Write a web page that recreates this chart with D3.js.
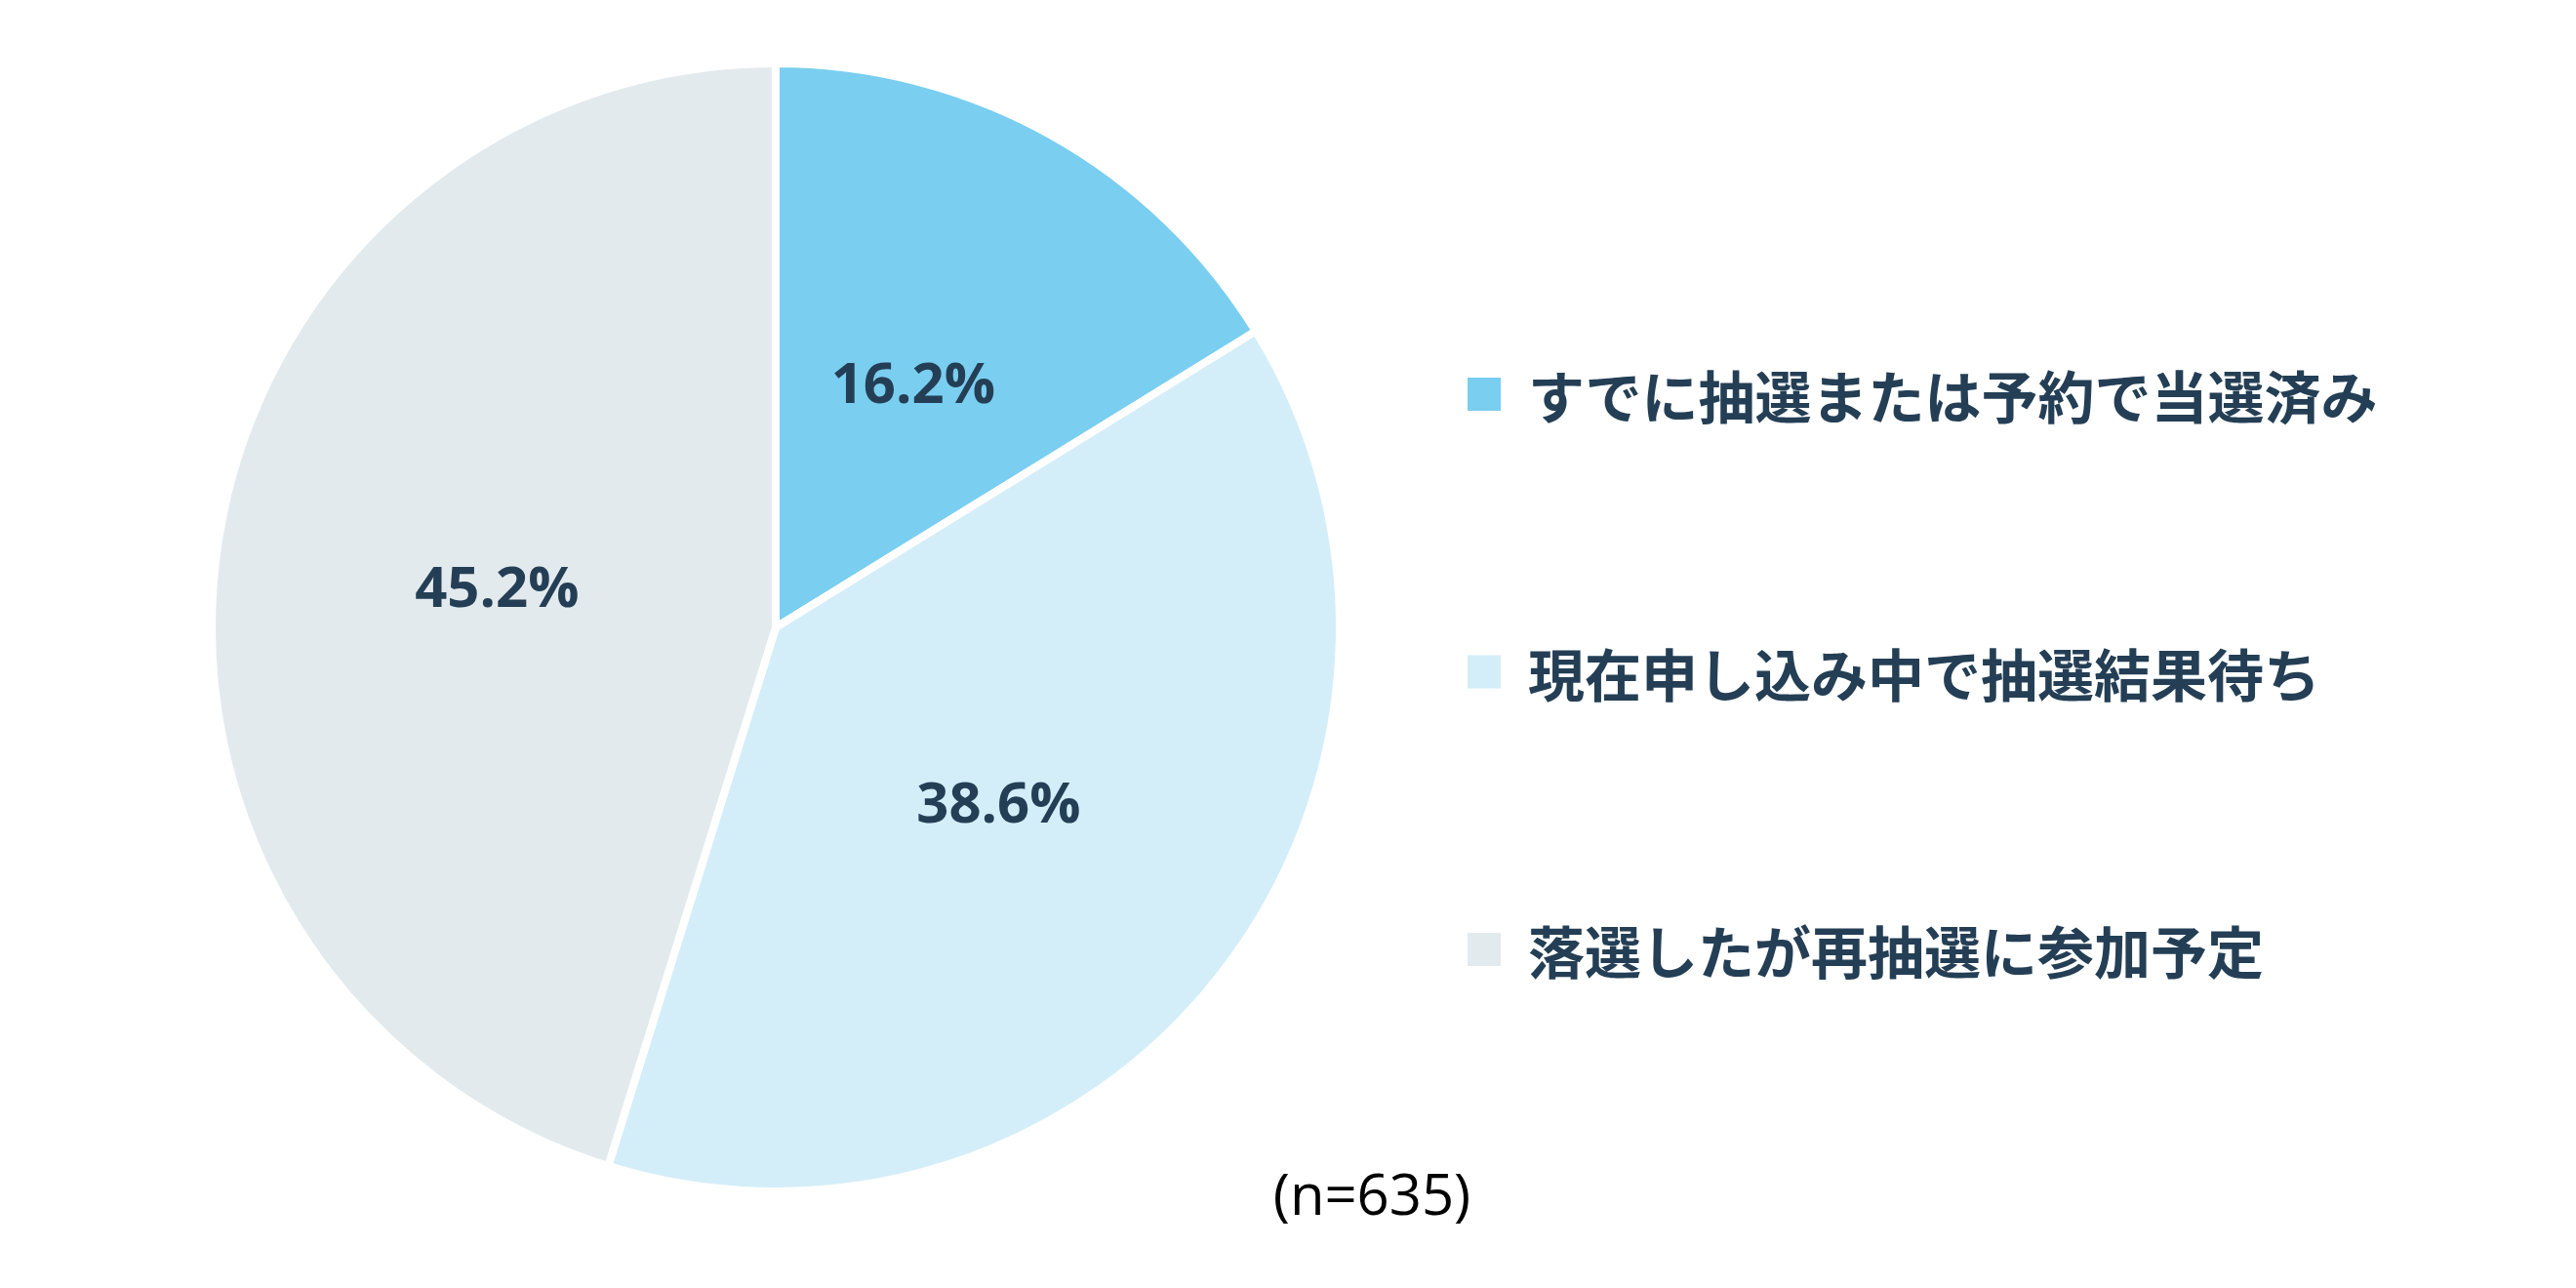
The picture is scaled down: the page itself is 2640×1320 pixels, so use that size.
<!DOCTYPE html>
<html><head><meta charset="utf-8">
<script src="https://cdn.jsdelivr.net/npm/d3@7"></script>
<style>body{margin:0;background:#fff}</style></head>
<body><svg id="c" width="2640" height="1320"></svg>
<script>
const categories = ["すでに抽選または予約で当選済み","現在申し込み中で抽選結果待ち","落選したが再抽選に参加予定"];
const values = [16.2, 38.6, 45.2];
const colors = ["#7acef0","#d4eef9","#e3eaee"];
const note = "(n=635)";

const svg = d3.select("#c");
const cx = 795, cy = 643, R = 578;
const g = svg.append("g").attr("transform",`translate(${cx},${cy})`);
const pie = d3.pie().sort(null).value(d=>d)(values);
const arc = d3.arc().innerRadius(0).outerRadius(R);
g.selectAll("path").data(pie).join("path").attr("d",arc)
 .attr("fill",(d,i)=>colors[i]).attr("stroke","#fff").attr("stroke-width",8);
g.selectAll("text").data(pie).join("text")
 .attr("transform",d=>`translate(${arc.centroid(d)})`)
 .attr("text-anchor","middle").attr("dominant-baseline","central")
 .attr("font-family","'Open Sans','Noto Sans',sans-serif").attr("font-weight","bold")
 .attr("font-size",58).attr("fill","#243f55").text(d=>d.data.toFixed(1)+"%");

const lg = svg.append("g");
const ly = d3.scalePoint().domain(categories).range([404,973]);
categories.forEach((c,i)=>{
  lg.append("rect").attr("x",1504).attr("y",ly(c)-17).attr("width",34).attr("height",34).attr("fill",colors[i]);
  lg.append("text").attr("x",1566).attr("y",ly(c)).attr("dominant-baseline","central")
   .attr("font-family","'Noto Sans CJK JP',sans-serif").attr("font-weight","bold")
   .attr("font-size",58).attr("fill","#243f55").text(c);
});
svg.append("text").attr("x",1406).attr("y",1222).attr("text-anchor","middle").attr("dominant-baseline","central")
 .attr("font-family","'Open Sans','Noto Sans',sans-serif").attr("font-size",58).attr("fill","#000").text(note);
</script></body></html>
